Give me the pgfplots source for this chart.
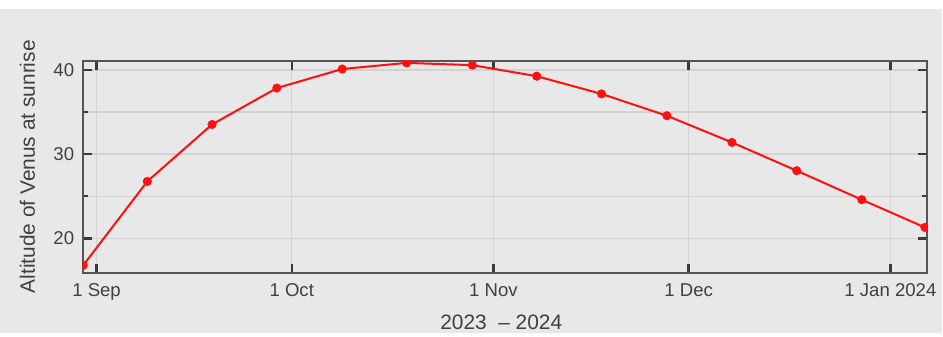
\documentclass[border=0pt]{standalone}
\usepackage{fontspec}
\setmainfont{Liberation Sans}
\usepackage{pgfplots}
\pgfplotsset{compat=1.18}

\definecolor{panel}{HTML}{E8E8E8}
\definecolor{gridc}{HTML}{D2D2D2}
\definecolor{framec}{HTML}{555555}
\definecolor{tickc}{HTML}{3A3A3A}
\definecolor{labc}{HTML}{404040}
\definecolor{venus}{HTML}{FF0F0F}

% Altitude of Venus at sunrise, days counted from 1 Sep 2023
\pgfplotstableread{
day    alt
-2.05  16.8
7.8    26.76
17.75  33.52
27.7   37.84
37.75  40.1
47.65  40.83
57.75  40.56
67.65  39.25
77.6   37.15
87.65  34.56
97.65  31.39
107.6  28.03
117.6  24.59
127.3  21.3
}\venusdata

\begin{document}
\begin{tikzpicture}
% page background: thin white strip on top, grey panel below
\fill[white] (0pt,0pt) rectangle (471.5pt,167pt);
\fill[panel] (0pt,0pt) rectangle (471.5pt,162.5pt);
\begin{axis}[
  at={(41.35pt,30.35pt)}, anchor=south west,
  scale only axis, width=422.8pt, height=106.3pt,
  xmin=-2.15, xmax=127.6, ymin=15.9, ymax=41.1,
  axis background/.style={fill=panel},
  clip marker paths=true,
  xtick={0,30,61,91,122},
  xticklabels={1 Sep,1 Oct,1 Nov,1 Dec,1 Jan 2024},
  ytick={20,30,40}, minor ytick={25,35},
  grid=both,
  major grid style={draw=gridc, line width=0.7pt},
  minor grid style={draw=gridc, line width=0.7pt},
  axis line style={draw=framec, line width=1pt},
  tick align=inside,
  major tick length=4.5pt, minor tick length=2.5pt,
  every tick/.style={draw=tickc, line width=1.2pt},
  /pgf/number format/assume math mode=true,
  ticklabel style={font=\fontsize{9.3}{11}\selectfont, text=labc},
  xticklabel style={yshift=-1.8pt},
  yticklabel style={xshift=-0.7pt},
  xlabel={2023\ \ – 2024},
  ylabel={Altitude of Venus at sunrise},
  label style={font=\fontsize{10.45}{12}\selectfont, text=labc},
  xlabel style={at={(axis description cs:0.4959,-0.2338)}, anchor=center},
  ylabel style={at={(axis description cs:-0.0653,0.5)}, anchor=center},
]
\addplot[venus, line width=1pt, mark=*, mark size=1.75pt,
  mark options={fill=venus, draw=venus}]
  table[x=day, y=alt] {\venusdata};
\end{axis}
\end{tikzpicture}
\end{document}
